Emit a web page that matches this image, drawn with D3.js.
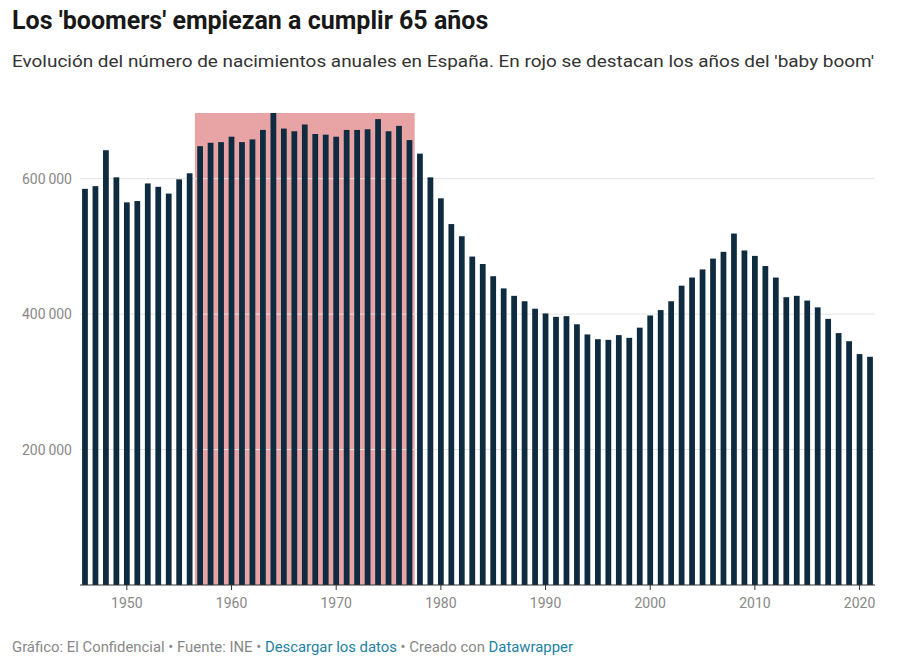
<!DOCTYPE html>
<html><head><meta charset="utf-8">
<script src="https://cdn.jsdelivr.net/npm/d3@7"></script>
<style>
body{margin:0;background:#fff;font-family:Roboto,sans-serif;}
</style></head><body>
<div id="chart"></div>
<script>
const years = d3.range(1946, 2022);
const births = [585,589,642,602,565,567,593,588,578,599,608,
  648,653,654,662,654,658,672,697,674,670,680,666,665,662,672,672,673,688,670,678,657,
  637,602,571,533,515,485,474,456,438,427,419,408,401,396,397,385,370,363,362,369,365,380,
  398,406,419,442,454,466,482,492,519,494,486,471,454,425,427,420,410,393,372,360,341,337].map(v => v * 1000);
const boomYears = [1957, 1977];
const yTicks = [200000, 400000, 600000];
const xTicks = [1950, 1960, 1970, 1980, 1990, 2000, 2010, 2020];

const W = 906, H = 665;
const svg = d3.select('#chart').append('svg').attr('width', W).attr('height', H);

const x = d3.scaleBand().domain(years).range([80, 875]).paddingInner(0.45).paddingOuter(0.2);
const y = d3.scaleLinear().domain([0, 697000]).range([585, 113]);

svg.append('text').attr('x', 12).attr('y', 29).text("Los 'boomers' empiezan a cumplir 65 años")
  .attr('font-size', 25).attr('font-weight', 700).attr('fill', '#181818');
svg.append('text').attr('x', 12).attr('y', 67)
  .text("Evolución del número de nacimientos anuales en España. En rojo se destacan los años del 'baby boom'")
  .attr('font-size', 17).attr('fill', '#333')
  .attr('textLength', 862).attr('lengthAdjust', 'spacingAndGlyphs');

// highlight
const hx0 = x(boomYears[0]) - x.step() * x.paddingInner() / 2;
const hx1 = x(boomYears[1]) + x.bandwidth() + x.step() * x.paddingInner() / 2;
svg.append('rect')
  .attr('x', hx0).attr('width', hx1 - hx0)
  .attr('y', y(697000)).attr('height', y(0) - y(697000))
  .attr('fill', '#e8a3a5');

// grid
svg.append('g').selectAll('line').data(yTicks).join('line')
  .attr('x1', 80).attr('x2', 875).attr('y1', d => y(d)).attr('y2', d => y(d))
  .attr('stroke', '#e3e3e3');
svg.append('g').selectAll('text').data(yTicks).join('text')
  .attr('x', 72).attr('y', d => y(d) + 5).attr('text-anchor', 'end')
  .attr('font-size', 14).attr('fill', '#888')
  .text(d => d3.format(',')(d).replace(',', '\u2009'));

svg.append('g').selectAll('rect').data(years).join('rect')
  .attr('x', d => x(d)).attr('width', x.bandwidth())
  .attr('y', (d, i) => y(births[i])).attr('height', (d, i) => y(0) - y(births[i]))
  .attr('fill', '#0e2b40');

const xAxis = svg.append('g').attr('transform', `translate(0,${y(0)})`)
  .call(d3.axisBottom(x).tickValues(xTicks).tickSize(5).tickSizeOuter(0));
xAxis.select('.domain').remove();
xAxis.selectAll('line').attr('stroke', '#333');
xAxis.selectAll('text').attr('font-size', 14).attr('fill', '#888').attr('font-family', 'Roboto').attr('dy', '1.05em');
svg.append('line').attr('x1', 80).attr('x2', 875).attr('y1', y(0)).attr('y2', y(0)).attr('stroke', '#333');

const foot = svg.append('text').attr('x', 12).attr('y', 652).attr('font-size', 14.5).attr('fill', '#888')
  .attr('textLength', 561).attr('lengthAdjust', 'spacingAndGlyphs');
foot.append('tspan').text('Gráfico: El Confidencial • Fuente: INE • ');
foot.append('tspan').text('Descargar los datos').attr('fill', '#1d81a2');
foot.append('tspan').text(' • Creado con ');
foot.append('tspan').text('Datawrapper').attr('fill', '#1d81a2');
</script></body></html>
